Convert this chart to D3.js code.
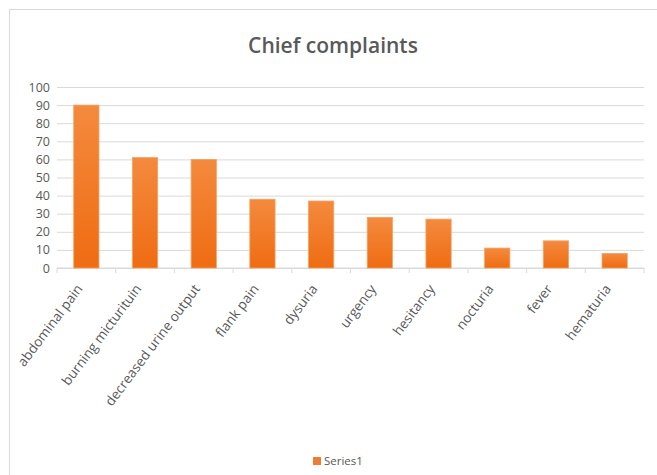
<!DOCTYPE html>
<html><head><meta charset="utf-8">
<script src="https://cdn.jsdelivr.net/npm/d3@7"></script>
<style>body{margin:0;background:#fff}svg{display:block}</style>
</head><body>
<script>
const categories = ["abdominal pain","burning micturituin","decreased urine output","flank pain","dysuria","urgency","hesitancy","nocturia","fever","hematuria"];
const values = [90,61,60,38,37,28,27,11,15,8];
const yTicks = [0,10,20,30,40,50,60,70,80,90,100];
const seriesName = "Series1";
const title = "Chief complaints";

const W=657,H=475;
const svg=d3.select("body").append("svg").attr("width",W).attr("height",H);
const font="'Open Sans', 'Liberation Sans', sans-serif";
const grad=svg.append("defs").append("linearGradient").attr("id","g").attr("x1",0).attr("y1",0).attr("x2",0).attr("y2",1);
grad.append("stop").attr("offset","0%").attr("stop-color","#f48a3e");
grad.append("stop").attr("offset","100%").attr("stop-color","#ef6c12");

svg.append("rect").attr("x",9.5).attr("y",9.5).attr("width",W+20).attr("height",H+20).attr("fill","#fff").attr("stroke","#d9d9d9");

const x=d3.scaleBand().domain(categories).range([57,644]).paddingInner(0.57).paddingOuter(0.285);
const y=d3.scaleLinear().domain([0,100]).range([268,87]);

svg.append("text").attr("x",333).attr("y",53).attr("text-anchor","middle").attr("font-family",font).attr("font-weight",600).attr("font-size",21).attr("fill","#595959").text(title);

const yAxis=svg.append("g").attr("transform","translate(57,0)").call(d3.axisLeft(y).tickValues(yTicks).tickSize(-587).tickPadding(7));
yAxis.select(".domain").remove();
yAxis.selectAll("line").attr("stroke","#d9d9d9");
yAxis.selectAll("text").attr("font-family",font).attr("font-size",12.5).attr("fill","#595959");

const xb=svg.append("g").attr("transform","translate(0,268)");
xb.append("line").attr("x1",57).attr("x2",644).attr("stroke","#d9d9d9");
const bounds=categories.map(c=>x(c)-x.step()*x.paddingInner()/2).concat([644]);
xb.selectAll("line.t").data(bounds).join("line").attr("class","t").attr("x1",d=>d).attr("x2",d=>d).attr("y1",0).attr("y2",5).attr("stroke","#d9d9d9");

svg.selectAll("rect.bar").data(values).join("rect").attr("class","bar")
 .attr("x",(d,i)=>x(categories[i])).attr("width",x.bandwidth())
 .attr("y",d=>y(d)).attr("height",d=>y(0)-y(d))
 .attr("fill","url(#g)").attr("stroke","#f7a060").attr("stroke-width",0.8);

svg.selectAll("text.xl").data(categories).join("text").attr("class","xl")
 .attr("transform",d=>`translate(${x(d)+x.bandwidth()/2-3},${289}) rotate(-53)`)
 .attr("text-anchor","end").attr("font-family",font).attr("font-size",13.5).attr("fill","#595959").text(d=>d);

svg.append("rect").attr("x",313).attr("y",457).attr("width",8).attr("height",8).attr("fill","#ed7d31");
svg.append("text").attr("x",324).attr("y",465).attr("font-family",font).attr("font-size",11.5).attr("fill","#595959").text(seriesName);
</script>
</body></html>
